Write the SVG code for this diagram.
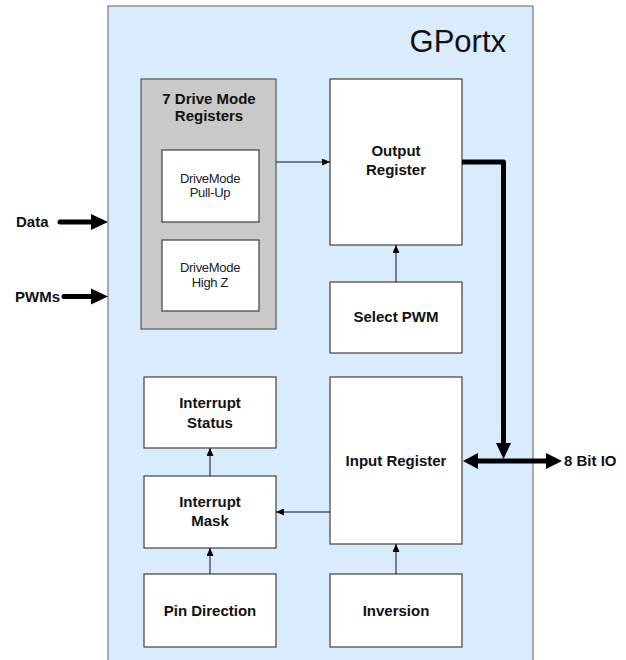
<svg xmlns="http://www.w3.org/2000/svg" width="626" height="660" viewBox="0 0 626 660">
<style>
.box{fill:#ffffff;stroke:#404040;stroke-width:1.2}
.b{font-family:"Liberation Sans",Arial,sans-serif;font-weight:bold;font-size:15px;fill:#111;text-anchor:middle}
.r{font-family:"Liberation Sans",Arial,sans-serif;font-size:13px;fill:#222;text-anchor:middle;letter-spacing:-0.3px}
.thin{stroke:#111;stroke-width:1;fill:none}
.thick{stroke:#000;stroke-width:5;fill:none}
.head{fill:#000}
</style>
<defs>
<marker id="ah" markerUnits="userSpaceOnUse" markerWidth="8" markerHeight="7" refX="8" refY="3.5" orient="auto">
<path d="M0,0 L8,3.5 L0,7 z" fill="#000"/>
</marker>
</defs>
<rect x="0" y="0" width="626" height="660" fill="#ffffff"/>
<g id="gportx">
<rect x="108" y="6" width="425" height="700" fill="#D9ECFD" stroke="#7a7a7a" stroke-width="1.2"/>
<text x="506" y="52" font-family="'Liberation Sans',Arial,sans-serif" font-size="31" fill="#111" text-anchor="end">GPortx</text>
</g>
<g id="drive-mode">
<rect x="141" y="79" width="135" height="250" fill="#C9C9C9" stroke="#555" stroke-width="1.2"/>
<text class="b" x="209" y="104">7 Drive Mode</text>
<text class="b" x="209" y="121">Registers</text>
</g>
<g id="pullup">
<rect class="box" x="162" y="150" width="97" height="72"/>
<text class="r" x="210" y="183">DriveMode</text>
<text class="r" x="210" y="197">Pull-Up</text>
</g>
<g id="highz">
<rect class="box" x="162" y="240" width="97" height="71"/>
<text class="r" x="210" y="272">DriveMode</text>
<text class="r" x="210" y="287">High Z</text>
</g>
<g id="output-register">
<rect class="box" x="330" y="79" width="132" height="166"/>
<text class="b" x="396" y="156">Output</text>
<text class="b" x="396" y="175">Register</text>
</g>
<g id="select-pwm">
<rect class="box" x="330" y="282" width="132" height="71"/>
<text class="b" x="396" y="322">Select PWM</text>
</g>
<g id="input-register">
<rect class="box" x="330" y="377" width="132" height="167"/>
<text class="b" x="396" y="466">Input Register</text>
</g>
<g id="inversion">
<rect class="box" x="330" y="574" width="132" height="73"/>
<text class="b" x="396" y="616">Inversion</text>
</g>
<g id="interrupt-status">
<rect class="box" x="144" y="377" width="132" height="71"/>
<text class="b" x="210" y="408">Interrupt</text>
<text class="b" x="210" y="428">Status</text>
</g>
<g id="interrupt-mask">
<rect class="box" x="144" y="476" width="132" height="72"/>
<text class="b" x="210" y="507">Interrupt</text>
<text class="b" x="210" y="526">Mask</text>
</g>
<g id="pin-direction">
<rect class="box" x="144" y="574" width="132" height="73"/>
<text class="b" x="210" y="616">Pin Direction</text>
</g>
<g id="labels">
<text class="b" x="16" y="227" text-anchor="start" style="text-anchor:start">Data</text>
<text class="b" x="15" y="302" style="text-anchor:start">PWMs</text>
<text class="b" x="564" y="466" style="text-anchor:start">8 Bit IO</text>
</g>
<g id="connectors">
<line class="thin" x1="276" y1="162" x2="330" y2="162" marker-end="url(#ah)"/>
<line class="thin" x1="396" y1="282" x2="396" y2="245" marker-end="url(#ah)"/>
<line class="thin" x1="330" y1="512" x2="276" y2="512" marker-end="url(#ah)"/>
<line class="thin" x1="210" y1="476" x2="210" y2="448" marker-end="url(#ah)"/>
<line class="thin" x1="210" y1="574" x2="210" y2="548" marker-end="url(#ah)"/>
<line class="thin" x1="396" y1="574" x2="396" y2="544" marker-end="url(#ah)"/>
<line class="thick" x1="60" y1="222" x2="93" y2="222" stroke-linecap="round"/>
<path class="head" d="M91,214 L108,222 L91,230 z"/>
<line class="thick" x1="64" y1="296.5" x2="93" y2="296.5" stroke-linecap="round"/>
<path class="head" d="M91,288.5 L108,296.5 L91,304.5 z"/>
<path class="thick" d="M462,162 L503.5,162 L503.5,445" stroke-linejoin="round"/>
<path class="head" d="M496,443 L503.5,459 L511,443 z"/>
<line class="thick" x1="476" y1="461" x2="547" y2="461"/>
<path class="head" d="M478,453 L463,461 L478,469 z"/>
<path class="head" d="M546,453 L562,461 L546,469 z"/>
</g>
</svg>
